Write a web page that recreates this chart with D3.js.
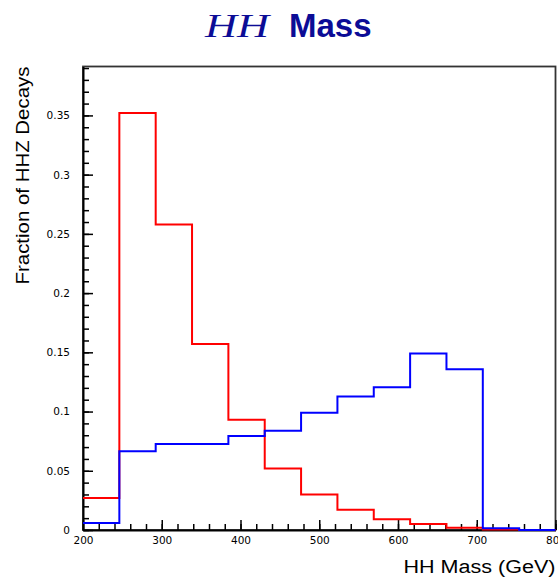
<!DOCTYPE html>
<html>
<head>
<meta charset="utf-8">
<script src="https://cdn.jsdelivr.net/npm/d3@7"></script>
<style>
  html, body { margin: 0; padding: 0; background: #fff; }
  svg { display: block; }
</style>
</head>
<body>
<svg id="chart" width="558" height="577"></svg>
<script>
// Histogram binning: 13 equal bins across the HH mass range (GeV)
const massRange = [200, 800];
const nBins = 13;

// Fraction of HHZ decays per bin, two samples
const redSeries  = [0.027, 0.352, 0.258, 0.157, 0.093, 0.052, 0.030, 0.017, 0.009, 0.005, 0.002, 0.0005, 0];
const blueSeries = [0.006, 0.0665, 0.0727, 0.0727, 0.0793, 0.0838, 0.099, 0.1126, 0.1205, 0.149, 0.1357, 0.0015, 0];

// Axis ticks
const xMajorTicks = [200, 300, 400, 500, 600, 700, 800];
const yMajorTicks = [0, 0.05, 0.1, 0.15, 0.2, 0.25, 0.3, 0.35];
const yTickLabels = ["0", "0.05", "0.1", "0.15", "0.2", "0.25", "0.3", "0.35"];
const yMax = 0.3913;

const svg = d3.select("#chart");
const frame = { left: 83, right: 555.5, top: 66.5, bottom: 530 };

const x = d3.scaleLinear().domain(massRange).range([frame.left, frame.right]);
const y = d3.scaleLinear().domain([0, yMax]).range([frame.bottom, frame.top]);

const binWidth = (massRange[1] - massRange[0]) / nBins;
const edges = d3.range(nBins + 1).map(i => massRange[0] + i * binWidth);

// Frame
svg.append("rect")
  .attr("x", frame.left).attr("y", frame.top)
  .attr("width", frame.right - frame.left).attr("height", frame.bottom - frame.top)
  .attr("fill", "none").attr("stroke", "#333").attr("stroke-width", 1.8);

const tickFont = "'DejaVu Sans', sans-serif";

// X axis: minor ticks every 20 GeV, major every 100 GeV, pointing inward
svg.append("g")
  .attr("transform", `translate(0,${frame.bottom})`)
  .call(d3.axisBottom(x).tickValues(d3.range(200, 801, 20)).tickSize(-6).tickFormat(""))
  .call(g => g.select(".domain").remove())
  .call(g => g.selectAll("line").attr("stroke", "#000").attr("stroke-width", 1.5));

svg.append("g")
  .attr("transform", `translate(0,${frame.bottom})`)
  .call(d3.axisBottom(x).tickValues(xMajorTicks).tickSizeInner(-10).tickSizeOuter(0).tickPadding(7).tickFormat(d3.format("d")))
  .call(g => g.select(".domain").attr("stroke", "#000").attr("stroke-width", 2))
  .call(g => g.selectAll("line").attr("stroke", "#000").attr("stroke-width", 1.5))
  .call(g => g.selectAll("text")
    .attr("font-family", tickFont).attr("font-size", 10.5).attr("fill", "#000"));

// Y axis: minor ticks every 0.01, major every 0.05
svg.append("g")
  .attr("transform", `translate(${frame.left},0)`)
  .call(d3.axisLeft(y).tickValues(d3.range(0, 40).map(i => i / 100)).tickSize(-6).tickFormat(""))
  .call(g => g.select(".domain").remove())
  .call(g => g.selectAll("line").attr("stroke", "#000").attr("stroke-width", 1.5));

svg.append("g")
  .attr("transform", `translate(${frame.left},0)`)
  .call(d3.axisLeft(y).tickValues(yMajorTicks).tickSizeInner(-10).tickSizeOuter(0).tickPadding(13)
    .tickFormat((d, i) => yTickLabels[i]))
  .call(g => g.select(".domain").attr("stroke", "#000").attr("stroke-width", 2))
  .call(g => g.selectAll("line").attr("stroke", "#000").attr("stroke-width", 1.5))
  .call(g => g.selectAll("text")
    .attr("font-family", tickFont).attr("font-size", 10.5).attr("fill", "#000"));

// Step outlines
const step = d3.line()
  .x(d => x(d[0]))
  .y(d => y(d[1]))
  .curve(d3.curveStepAfter);

function outline(values) {
  const pts = values.map((v, i) => [edges[i], v]);
  pts.push([edges[nBins], values[nBins - 1]]);
  return pts;
}

svg.append("path")
  .datum(outline(redSeries))
  .attr("d", step)
  .attr("fill", "none").attr("stroke", "#ff0000").attr("stroke-width", 2);

svg.append("path")
  .datum(outline(blueSeries))
  .attr("d", step)
  .attr("fill", "none").attr("stroke", "#0000ff").attr("stroke-width", 2);

// Axis titles
svg.append("text")
  .attr("x", frame.right).attr("y", 573)
  .attr("text-anchor", "end")
  .attr("font-family", "'Liberation Sans', Arial, sans-serif")
  .attr("font-size", 18)
  .attr("textLength", 152).attr("lengthAdjust", "spacingAndGlyphs")
  .text("HH Mass (GeV)");

svg.append("text")
  .attr("transform", `translate(28.5,${frame.top}) rotate(-90)`)
  .attr("text-anchor", "end")
  .attr("font-family", "'Liberation Sans', Arial, sans-serif")
  .attr("font-size", 19)
  .attr("textLength", 218).attr("lengthAdjust", "spacingAndGlyphs")
  .text("Fraction of HHZ Decays");

// Title
const title = svg.append("g").attr("fill", "#0c0c96");
title.append("text")
  .attr("x", 205).attr("y", 37)
  .attr("font-family", "'Liberation Serif', 'Times New Roman', serif")
  .attr("font-style", "italic")
  .attr("font-size", 33)
  .attr("textLength", 64).attr("lengthAdjust", "spacingAndGlyphs")
  .text("HH");
title.append("text")
  .attr("x", 289).attr("y", 37)
  .attr("font-family", "'Liberation Sans', Arial, sans-serif")
  .attr("font-weight", "bold")
  .attr("font-size", 33)
  .text("Mass");
</script>
</body>
</html>
